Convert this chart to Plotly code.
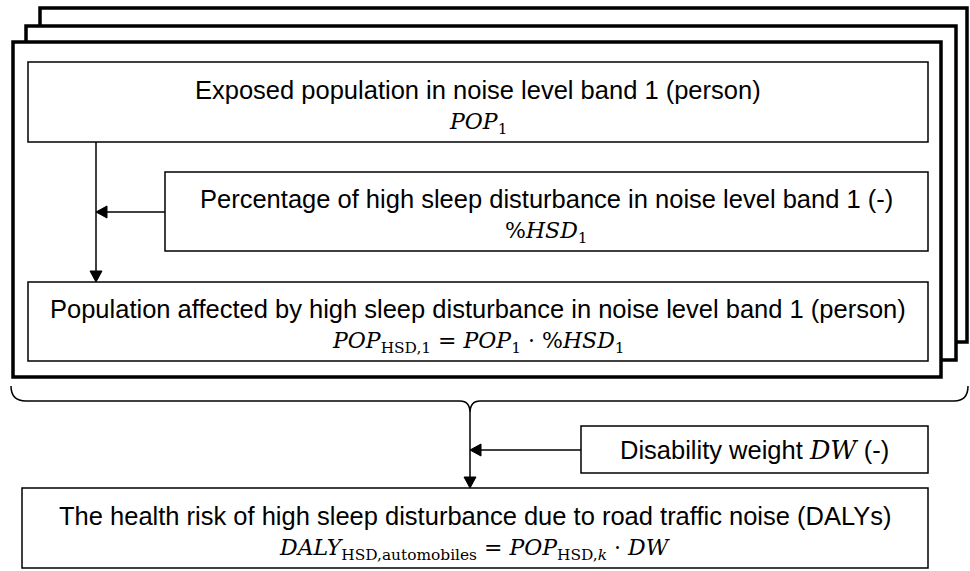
import plotly.graph_objects as go

SERIF = "DejaVu Serif, Liberation Serif, serif"
SANS = "Liberation Sans, Arial, sans-serif"

# Diagram content
box_titles = [
    "Exposed population in noise level band 1 (person)",
    "Percentage of high sleep disturbance in noise level band 1 (-)",
    "Population affected by high sleep disturbance in noise level band 1 (person)",
    "Disability weight <span style='font-family:DejaVu Serif'><i>DW</i></span> (-)",
    "The health risk of high sleep disturbance due to road traffic noise (DALYs)",
]
box_formulas = [
    "<i>POP</i><sub>1</sub>",
    "%<i>HSD</i><sub>1</sub>",
    "<i>POP</i><sub>HSD,1</sub> = <i>POP</i><sub>1</sub> · %<i>HSD</i><sub>1</sub>",
    "",
    "<i>DALY</i><sub>HSD,automobiles</sub> = <i>POP</i><sub>HSD,<i>k</i></sub> · <i>DW</i>",
]
# box geometry (x0, y0, x1, y1) in pixel-like diagram coordinates
boxes = [
    (28, 62, 928, 142),
    (165, 172, 928, 251),
    (28, 282, 928, 361),
    (581, 426, 928, 473),
    (22, 488, 928, 568),
]
frames = [
    (40, 8, 967, 342),
    (26, 26, 956, 360),
    (13, 42, 941, 377),
]

fig = go.Figure()
fig.add_trace(go.Scatter(x=[0, 970], y=[0, 571], mode="markers",
                         marker=dict(opacity=0), hoverinfo="skip", showlegend=False))

shapes = []
for (x0, y0, x1, y1) in frames:
    shapes.append(dict(type="rect", x0=x0, y0=y0, x1=x1, y1=y1,
                       line=dict(color="black", width=3.5), fillcolor="white", layer="above"))
for (x0, y0, x1, y1) in boxes:
    shapes.append(dict(type="rect", x0=x0, y0=y0, x1=x1, y1=y1,
                       line=dict(color="black", width=1.5), fillcolor="white", layer="above"))

# brace
shapes.append(dict(type="path",
                   path="M 11,386 Q 11,401 26,401 L 460,401 Q 470,401 470,413 "
                        "Q 470,401 480,401 L 954,401 Q 968,401 968,386",
                   line=dict(color="black", width=1.5), layer="above"))
# connector lines
shapes.append(dict(type="line", x0=96, y0=142, x1=96, y1=272,
                   line=dict(color="black", width=1.5), layer="above"))
shapes.append(dict(type="line", x0=165, y0=212, x1=106, y1=212,
                   line=dict(color="black", width=1.5), layer="above"))
shapes.append(dict(type="line", x0=470, y0=413, x1=470, y1=478,
                   line=dict(color="black", width=1.5), layer="above"))
shapes.append(dict(type="line", x0=581, y0=450, x1=480, y1=450,
                   line=dict(color="black", width=1.5), layer="above"))

# arrowheads (filled triangles)
def tri_down(x, ytip, w=6, h=11):
    return f"M {x},{ytip} L {x-w},{ytip-h} L {x+w},{ytip-h} Z"

def tri_left(xtip, y, w=6, h=11):
    return f"M {xtip},{y} L {xtip+h},{y-w} L {xtip+h},{y+w} Z"

for p in [tri_down(96, 282), tri_left(96, 212), tri_down(470, 488), tri_left(470, 450)]:
    shapes.append(dict(type="path", path=p, fillcolor="black",
                       line=dict(color="black", width=1), layer="above"))

annotations = []
for i, (x0, y0, x1, y1) in enumerate(boxes):
    cx = (x0 + x1) / 2
    if box_formulas[i]:
        annotations.append(dict(x=cx, y=y0 + 0.345 * (y1 - y0), text=box_titles[i],
                                 showarrow=False, font=dict(family=SANS, size=25.5, color="black")))
        annotations.append(dict(x=cx, y=y0 + 0.765 * (y1 - y0), text=box_formulas[i],
                                 showarrow=False, font=dict(family=SERIF, size=22, color="black")))
    else:
        annotations.append(dict(x=cx, y=(y0 + y1) / 2, text=box_titles[i],
                                 showarrow=False, font=dict(family=SANS, size=25.5, color="black")))

fig.update_layout(
    width=970, height=571,
    margin=dict(l=0, r=0, t=0, b=0),
    paper_bgcolor="white", plot_bgcolor="white",
    xaxis=dict(range=[0, 970], visible=False, fixedrange=True),
    yaxis=dict(range=[571, 0], visible=False, fixedrange=True),
    shapes=shapes, annotations=annotations, showlegend=False,
)
fig.write_html("out.html", config={"displayModeBar": False},
               post_script="document.body.style.margin='0';document.body.style.padding='0';")
